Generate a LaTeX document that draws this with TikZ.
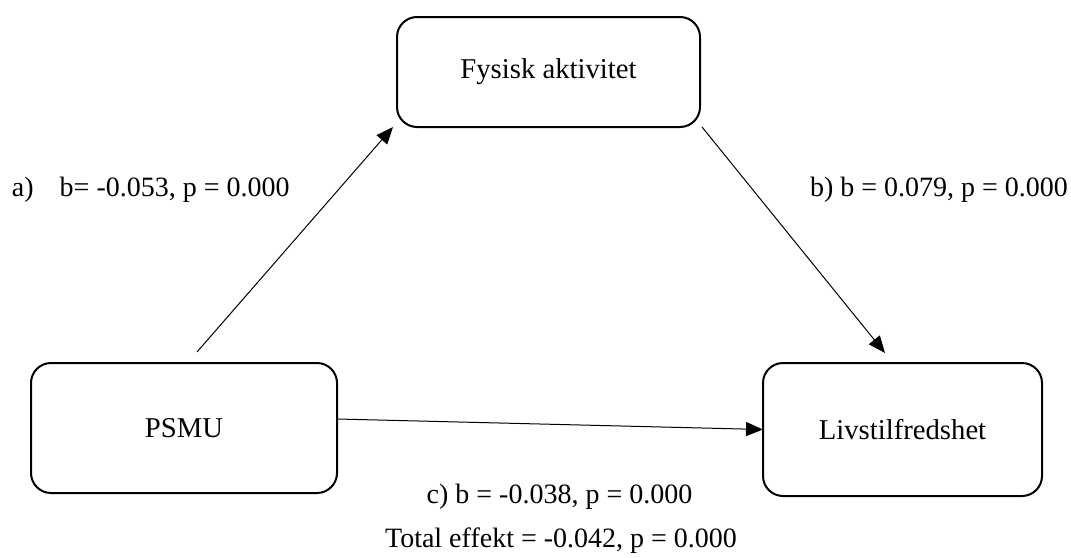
\documentclass[tikz,border=0pt]{standalone}
\usepackage{fontspec}
\setmainfont{Liberation Serif}
\usetikzlibrary{arrows.meta,calc}

\tikzset{
  varbox/.style={draw, line width=2pt, rounded corners=20pt, inner sep=0pt,
    outer sep=0pt, align=center, font=\fontsize{28.7}{34}\selectfont},
  coef/.style={inner sep=0pt, outer sep=0pt, font=\fontsize{28}{33}\selectfont},
  path/.style={line width=1pt, -{Triangle[length=17pt,width=14pt]}}
}

\begin{document}
\begin{tikzpicture}[x=1pt, y=-1pt]
  \useasboundingbox (0,0) rectangle (1071,557);

  % variables
  \node[varbox, minimum width=303pt, minimum height=110pt] (fys) at (548.5,72) {Fysisk aktivitet};
  \node[varbox, minimum width=306pt, minimum height=130pt] (psmu) at (184,428) {PSMU};
  \node[varbox, minimum width=279pt, minimum height=133pt] (liv) at (902.5,429.5) {Livstilfredshet};

  % paths
  \draw[path] ([xshift=13pt, yshift=11pt]psmu.north) -- ([xshift=-4pt]fys.south west);
  \draw[path] ([xshift=2pt]fys.south east) -- ([xshift=-17.5pt, yshift=10pt]liv.north);
  \draw[path] ([yshift=9pt]psmu.east) -- (liv.west);

  % coefficients
  \node[coef, anchor=west] (la) at (12,190) {a)\hspace{26pt}b= -0.053, p = 0.000};
  \node[coef, anchor=west] (lb) at (810,190) {b) b = 0.079, p = 0.000};
  \node[coef] (lc) at (559.5,497) {c) b = -0.038, p = 0.000};
  \node[coef] (lt) at (561,541) {Total effekt = -0.042, p = 0.000};
\end{tikzpicture}
\end{document}
